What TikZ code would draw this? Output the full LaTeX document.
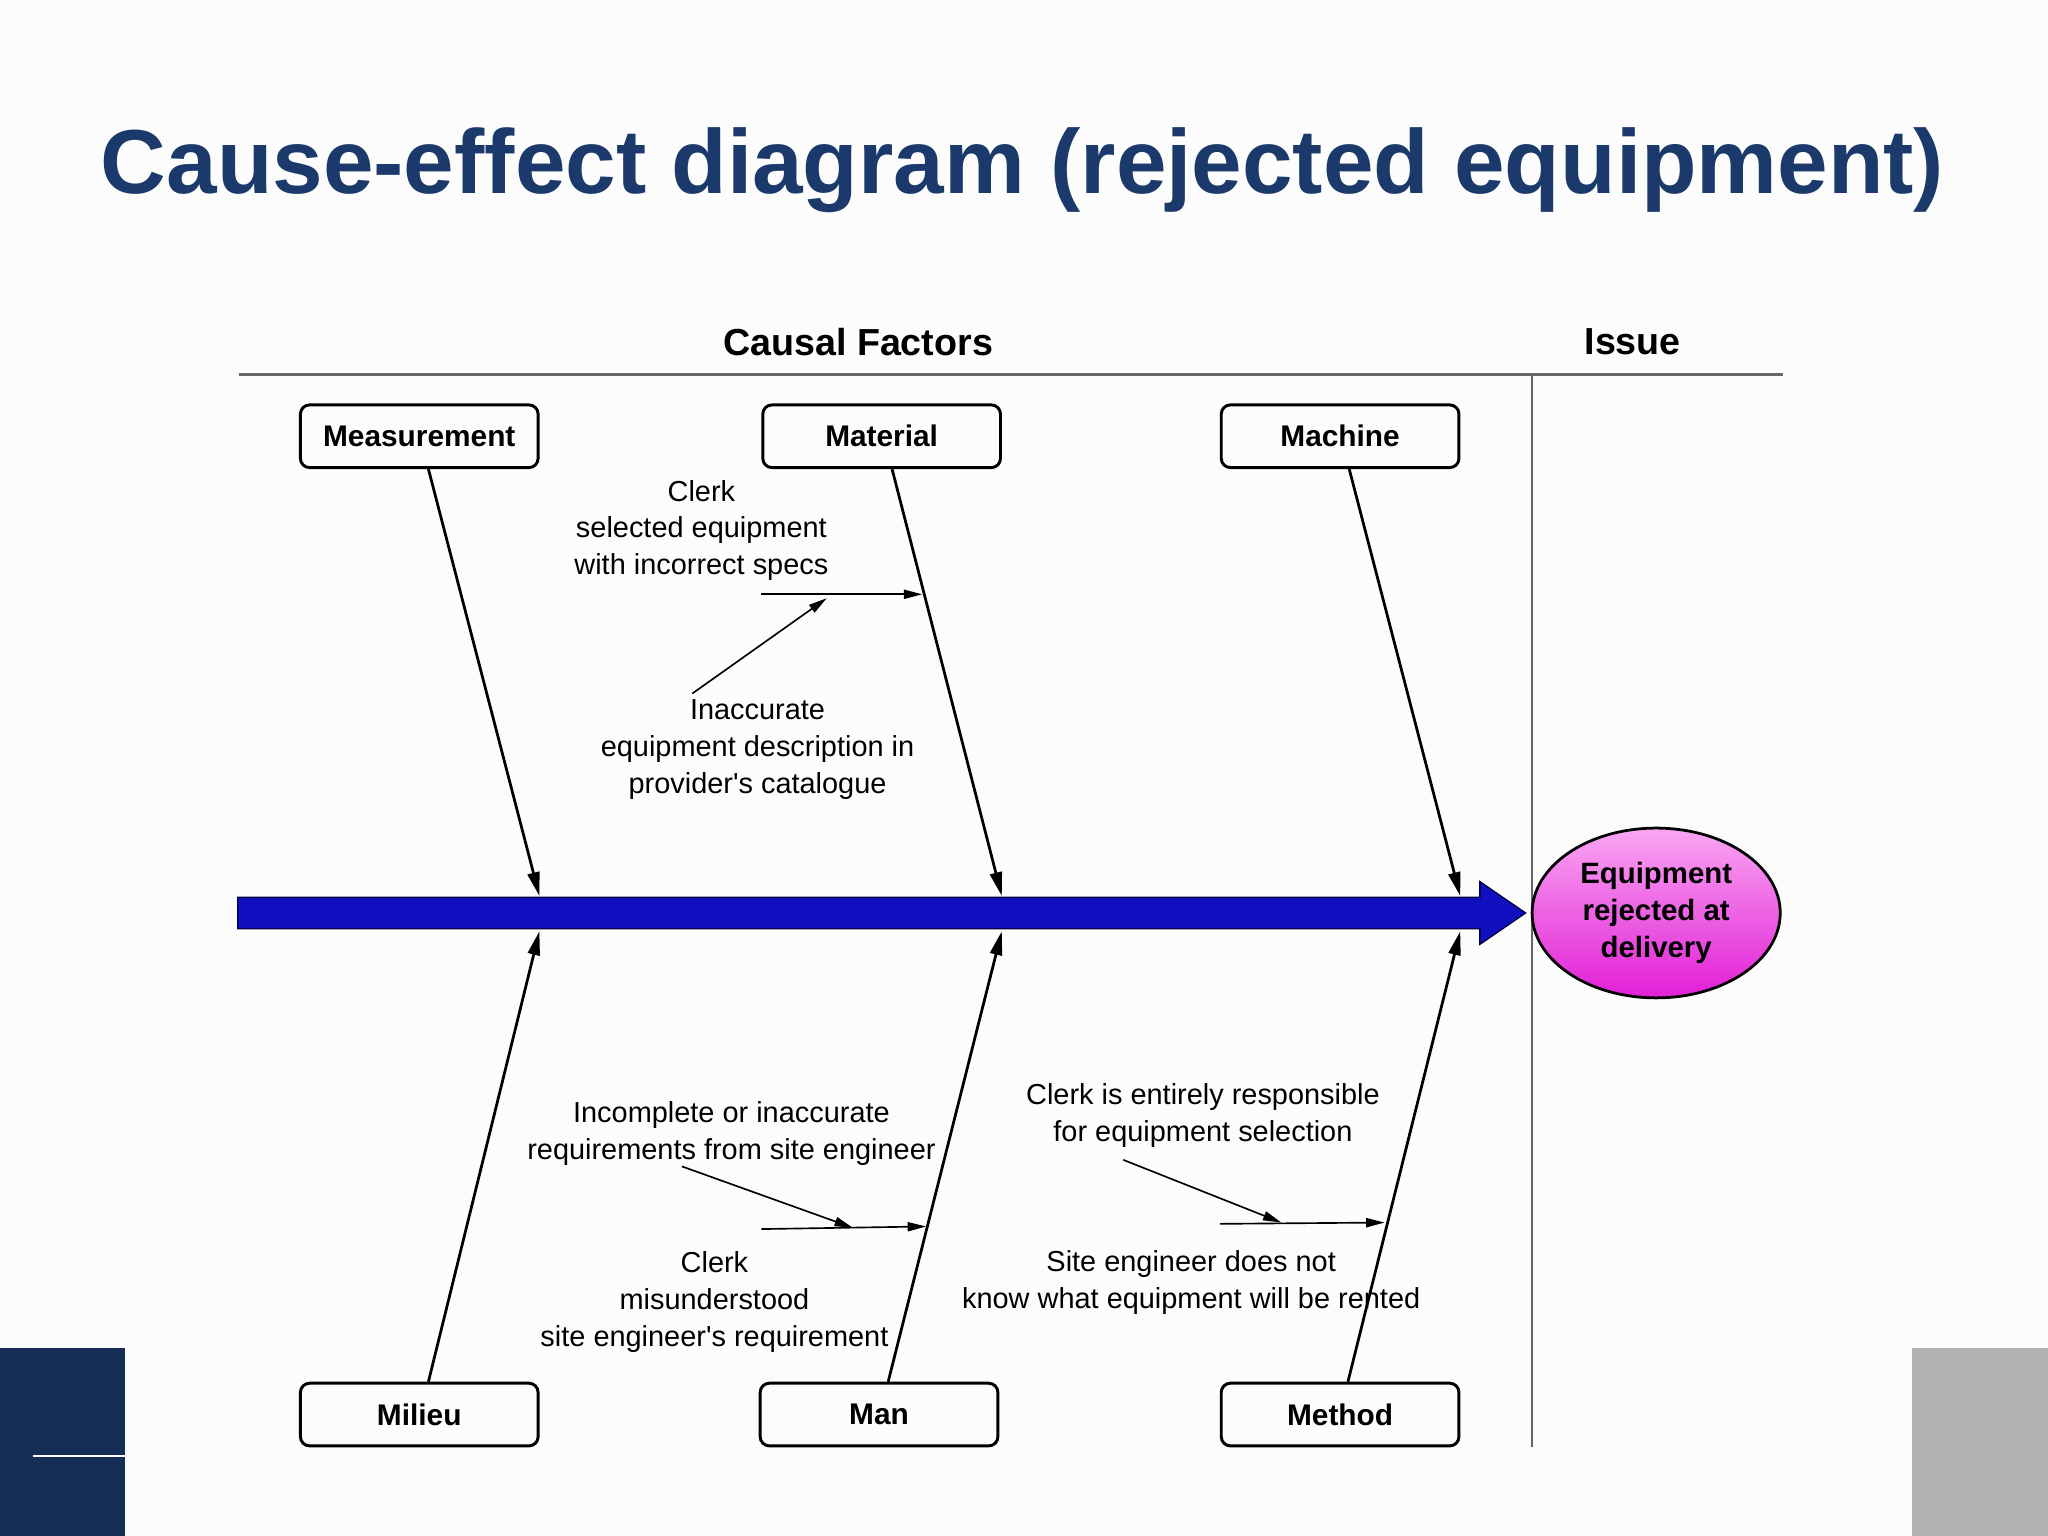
\documentclass[tikz,border=0pt]{standalone}
\usepackage{fontspec}
\setmainfont{Liberation Sans}
\usetikzlibrary{arrows.meta,shapes.geometric}
\definecolor{titleblue}{HTML}{1B3A6B}
\definecolor{spine}{HTML}{1010C0}
\definecolor{pinktop}{HTML}{F9A6F2}
\definecolor{pinkbot}{HTML}{E21FD6}
\definecolor{bg}{HTML}{FCFCFD}
\begin{document}
\begin{tikzpicture}[x=0.05cm,y=-0.05cm,
  cat/.style={draw,line width=3.2pt,rounded corners=10pt,minimum width=9.1cm,minimum height=2.4cm,font=\bfseries\fontsize{32.5}{36}\selectfont},
  bone/.style={line width=3pt,-{Triangle[length=26pt,width=13pt]}},
  sub/.style={line width=1.8pt,-{Triangle[length=20pt,width=10pt]}},
  txt/.style={align=center,font=\fontsize{31.5}{40}\selectfont,inner sep=0pt}]
\fill[bg] (0,0) rectangle (1568,1176);
\useasboundingbox (0,0) rectangle (1568,1176);
\fill[titleblue!80!black] (0,1032) rectangle (96,1176);
\draw[white,line width=2pt] (25,1115) -- (96,1115);
\fill[gray!60] (1464,1032) rectangle (1568,1176);
\node[text=titleblue,font=\bfseries\fontsize{99}{110}\selectfont] (title) at (783,130) {Cause-effect diagram (rejected equipment)};
\node[font=\bfseries\fontsize{41}{44}\selectfont] (cf) at (657,262) {Causal Factors};
\node[font=\bfseries\fontsize{41}{44}\selectfont] (is) at (1250,262) {Issue};
\draw[gray!80!black,line width=3pt] (183,287) -- (1365,287);
\draw[gray!80!black,line width=3pt] (1173,287) -- (1173,1108);
% spine
\fill[spine,draw=blue!30!black,line width=1.5pt] (182,687) -- (1133,687) -- (1133,675) -- (1168,699) -- (1133,723) -- (1133,711) -- (182,711) -- cycle;
\node[ellipse,draw,line width=3pt,top color=pinktop,bottom color=pinkbot,minimum width=9.5cm,minimum height=6.5cm,align=center,font=\bfseries\fontsize{32}{40}\selectfont] (eff) at (1268,699) {Equipment\\rejected at\\delivery};
% categories
\node[cat] (meas) at (321,334) {Measurement};
\node[cat] (mat) at (675,334) {Material};
\node[cat] (mach) at (1026,334) {Machine};
\node[cat] (mil) at (321,1083) {Milieu};
\node[cat] (man) at (673,1083) {Man};
\node[cat] (meth) at (1026,1083) {Method};
\coordinate (s1) at (413,686); \coordinate (s2) at (767,686); \coordinate (s3) at (1118,686);
\coordinate (t1) at (413,713); \coordinate (t2) at (767,713); \coordinate (t3) at (1118,713);
\draw[bone] (meas.south -| 328,0) -- (s1);
\draw[bone] (mat.south -| 683,0) -- (s2);
\draw[bone] (mach.south -| 1033,0) -- (s3);
\draw[bone] (mil.north -| 328,0) -- (t1);
\draw[bone] (man.north -| 680,0) -- (t2);
\draw[bone] (meth.north -| 1032,0) -- (t3);
% sub causes
\node[txt] (c1) at (537,406) {Clerk\\selected equipment\\with incorrect specs};
\node[txt] (c2) at (580,574) {Inaccurate\\equipment description in\\provider\textquotesingle s catalogue};
\coordinate (a1) at (583,455); \coordinate (a2) at (706,455);
\coordinate (a3) at (530,531); \coordinate (a4) at (633,458);
\draw[sub] (a1) -- (a2);
\draw[sub] (a3) -- (a4);
\node[txt] (c3) at (560,868) {Incomplete or inaccurate\\requirements from site engineer};
\node[txt] (c4) at (547,997) {Clerk\\misunderstood\\site engineer\textquotesingle s requirement};
\coordinate (b1) at (522,893); \coordinate (b2) at (653,940);
\coordinate (b3) at (583,941); \coordinate (b4) at (709,939);
\draw[sub] (b1) -- (b2);
\draw[sub] (b3) -- (b4);
\node[txt] (c5) at (921,854) {Clerk is entirely responsible\\for equipment selection};
\node[txt] (c6) at (912,982) {Site engineer does not\\know what equipment will be rented};
\coordinate (d1) at (860,888); \coordinate (d2) at (981,936);
\coordinate (d3) at (934,937); \coordinate (d4) at (1060,936);
\draw[sub] (d1) -- (d2);
\draw[sub] (d3) -- (d4);
\end{tikzpicture}
\end{document}
